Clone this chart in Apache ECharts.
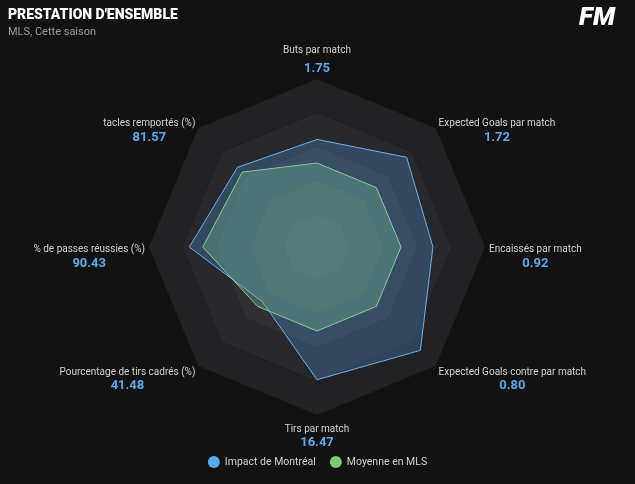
<!DOCTYPE html>
<html>
<head>
<meta charset="utf-8">
<script src="https://cdn.jsdelivr.net/npm/echarts@6/dist/echarts.min.js"></script>
<style>
* {margin: 0; padding: 0;}
html, body {background: #121212;}
#main {width: 635px; height: 484px;}
</style>
</head>
<body>
<div id="main"></div>
<script>
// axes in radar order: top first, then counter-clockwise
const AXIS_NAMES = [
    'Buts par match',
    'tacles remportés (%)',
    '% de passes réussies (%)',
    'Pourcentage de tirs cadrés (%)',
    'Tirs par match',
    'Expected Goals contre par match',
    'Encaissés par match',
    'Expected Goals par match'
];
const AXIS_VALUES = ['1.75', '81.57', '90.43', '41.48', '16.47', '0.80', '0.92', '1.72'];

// scores on a 0-100 scale
const TEAM_NAME = 'Impact de Montréal';
const TEAM_SCORES = [64, 67, 76, 46, 79, 87, 69, 75.5];
const LEAGUE_NAME = 'Moyenne en MLS';
const LEAGUE_SCORES = [50, 63, 68, 50, 50, 50, 50, 50];

const BLUE = '#5aaaee';
const GREEN = '#7ec87e';

// label block placement by side of the radar
function nameStyle(i) {
    const angle = (90 + i * 45) % 360;
    if (angle === 90) {
        return {verticalAlign: 'bottom', align: 'center'};
    }
    if (angle === 270) {
        return {verticalAlign: 'top', align: 'center', padding: [3, 0, 0, 0]};
    }
    const align = angle > 90 && angle < 270 ? 'right' : 'left';
    if (angle === 0 || angle === 180) {
        return {verticalAlign: 'middle', align, padding: [19, 0, 0, 0]};
    }
    // diagonals
    return {verticalAlign: 'middle', align, padding: [angle < 180 ? 11 : 21, 0, 0, 0]};
}

const indicator = AXIS_NAMES.map((name, i) => {
    const item = {name, max: 100, min: 0, nameTextStyle: nameStyle(i)};
    if (i === 0) {
        item.nameGap = 0;
    }
    return item;
});

const chart = echarts.init(document.getElementById('main'));
chart.setOption({
    backgroundColor: '#121212',
    animation: false,
    title: [
        {
            text: 'PRESTATION D\'ENSEMBLE',
            subtext: 'MLS, Cette saison',
            left: 3,
            top: 3,
            itemGap: 5,
            textStyle: {color: '#ffffff', fontSize: 14, fontWeight: 900, fontFamily: 'Roboto'},
            subtextStyle: {color: '#9a9a9a', fontSize: 11, fontFamily: 'Roboto'}
        },
        {
            text: 'FM',
            right: 15,
            top: 0,
            textStyle: {color: '#ffffff', fontSize: 26, fontWeight: 900, fontStyle: 'italic', fontFamily: 'Roboto'}
        }
    ],
    legend: {
        data: [TEAM_NAME, LEAGUE_NAME],
        bottom: 11,
        left: 'center',
        icon: 'circle',
        itemWidth: 12,
        itemHeight: 12,
        itemGap: 14,
        textStyle: {color: '#d0d0d0', fontSize: 10.5, fontFamily: 'Roboto'}
    },
    radar: {
        center: [317, 247],
        radius: 168,
        shape: 'polygon',
        splitNumber: 5,
        nameGap: 4,
        indicator,
        axisName: {
            fontFamily: 'Roboto',
            formatter: function (name) {
                const i = AXIS_NAMES.indexOf(name);
                const suffix = i === 0 ? 't' : '';
                return '{n' + suffix + '|' + name + '}\n{v' + suffix + '|' + AXIS_VALUES[i] + '}';
            },
            rich: {
                n: {color: '#d2d2d2', fontSize: 10, lineHeight: 14, align: 'center', fontFamily: 'Roboto'},
                v: {color: BLUE, fontSize: 13, fontWeight: 'bold', lineHeight: 14, align: 'center', fontFamily: 'Roboto'},
                nt: {color: '#d2d2d2', fontSize: 10, lineHeight: 18, align: 'center', fontFamily: 'Roboto'},
                vt: {color: BLUE, fontSize: 13, fontWeight: 'bold', lineHeight: 20, align: 'center', fontFamily: 'Roboto'}
            }
        },
        axisLine: {show: false},
        splitLine: {show: false},
        splitArea: {
            show: true,
            areaStyle: {color: ['#3d3d42', '#36363b', '#2f2f34', '#29292d', '#222225']}
        }
    },
    series: [
        {
            type: 'radar',
            symbol: 'none',
            data: [
                {
                    name: TEAM_NAME,
                    value: TEAM_SCORES,
                    itemStyle: {color: BLUE},
                    lineStyle: {color: '#6db4ec', width: 1},
                    areaStyle: {color: 'rgba(80, 150, 220, 0.42)'}
                },
                {
                    name: LEAGUE_NAME,
                    value: LEAGUE_SCORES,
                    itemStyle: {color: GREEN},
                    lineStyle: {color: '#86c9a0', width: 1},
                    areaStyle: {color: 'rgba(125, 205, 150, 0.45)'}
                }
            ]
        }
    ]
});
</script>
</body>
</html>
